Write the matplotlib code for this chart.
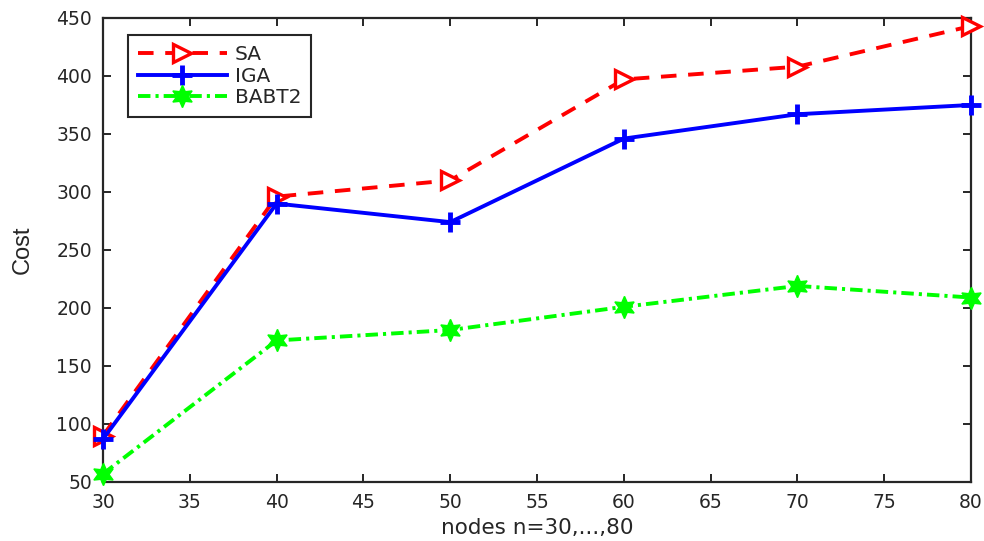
import matplotlib
matplotlib.use("Agg")
import matplotlib.pyplot as plt

# Données
nodes = [30, 40, 50, 60, 70, 80]
cost_sa = [90, 296, 310, 397, 408, 443]
cost_iga = [87, 290, 274, 346, 367, 375]
cost_babt2 = [57, 172, 181, 201, 219, 209]

plt.rcParams['font.family'] = ['DejaVu Sans']

fig = plt.figure(figsize=(9.84, 5.41), dpi=100)
ax = fig.add_axes([0.1047, 0.1091, 0.8821, 0.8577])

ax.plot(nodes, cost_sa, color='red', linestyle='--', linewidth=2.8,
        marker='>', markersize=13, markerfacecolor='white', markeredgewidth=2.4,
        dashes=(4, 3), label='SA', clip_on=False, zorder=3)
ax.plot(nodes, cost_iga, color='blue', linestyle='-', linewidth=2.8,
        marker='+', markersize=15, markeredgewidth=3.5, label='IGA', clip_on=False, zorder=4)
ax.plot(nodes, cost_babt2, color='#00ff00', linestyle='-.', linewidth=2.8,
        dashes=(3.2, 1.3, 0.8, 1.3),
        marker=(6, 1, 0), markersize=16, label='BABT2', clip_on=False, zorder=3)

ax.set_xlim(30, 80)
ax.set_ylim(50, 450)
ax.set_xticks(range(30, 81, 5))
ax.set_yticks(range(50, 451, 50))
ax.tick_params(direction='in', top=True, right=True, labelsize=13.5,
               length=6, width=1.4, pad=8, colors='#262626', labelcolor='#262626')
for s in ax.spines.values():
    s.set_linewidth(1.6)
    s.set_color('#262626')

ax.set_xlabel('nodes n=30,...,80', fontsize=15.5, labelpad=4, color='#262626')
ax.set_ylabel('Cost', fontsize=17, labelpad=16, color='#262626',
              family=['Liberation Sans Narrow', 'Liberation Sans', 'DejaVu Sans'])

leg = ax.legend(loc='upper left', bbox_to_anchor=(0.0288, 0.963), borderaxespad=0,
                fontsize=14.5, fancybox=False, edgecolor='#262626', framealpha=1,
                handlelength=4.4, handletextpad=0.4, borderpad=0.5, labelspacing=0.12)
leg.get_frame().set_linewidth(1.5)
for t in leg.get_texts():
    t.set_color('#262626')

fig.savefig('out.png', dpi=100)
